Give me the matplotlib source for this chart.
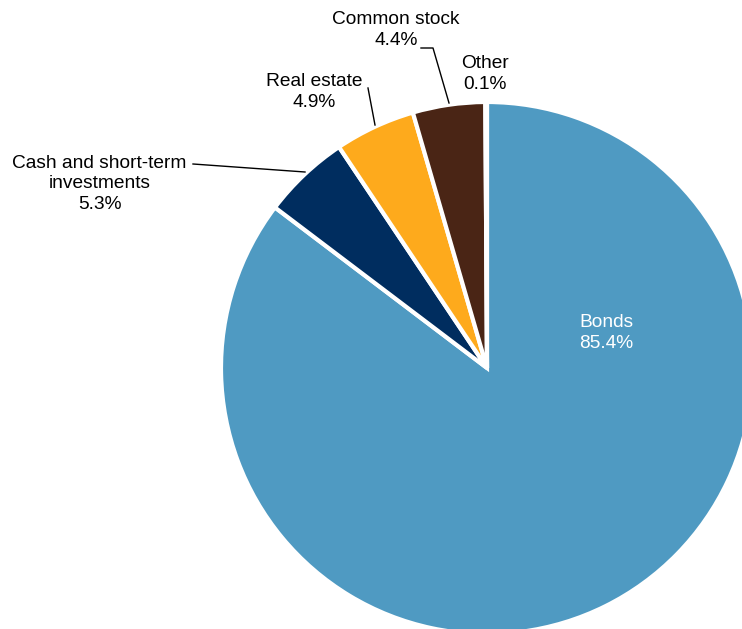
import matplotlib.pyplot as plt

# data
labels = ['Bonds', 'Cash and short-term\ninvestments', 'Real estate', 'Common stock', 'Other']
shares = [85.4, 5.3, 4.9, 4.4, 0.1]
colors = ['#4F9AC2', '#002D5F', '#FEAA1C', '#4A2515', '#9E9E9E']

plt.rcParams['font.family'] = ['Liberation Sans', 'DejaVu Sans']

W, H = 742, 629
fig = plt.figure(figsize=(W / 100, H / 100), dpi=100)
ax = fig.add_axes([0, 0, 1, 1])

cx, cy, r = 487, H - 368, 266
wedges, _ = ax.pie(shares, colors=colors, startangle=90, counterclock=False,
                   center=(cx, cy), radius=r, frame=True,
                   wedgeprops=dict(edgecolor='white', linewidth=3))
ax.set_xlim(0, W)
ax.set_ylim(0, H)
ax.axis('off')

fs = 13.8
def lab(x, y, s, color='black'):
    ax.text(x, H - y, s, ha='center', va='center', fontsize=fs, color=color,
            linespacing=1.3)

lab(606, 333, 'Bonds\n%.1f%%' % shares[0], 'white')
lab(99.5, 184, labels[1] + '\n%.1f%%' % shares[1])
lab(314, 92, labels[2] + '\n%.1f%%' % shares[2])
lab(396, 30, labels[3] + '\n%.1f%%' % shares[3])
lab(485, 74, labels[4] + '\n%.1f%%' % shares[4])

# leader lines
def leader(pts):
    ax.plot([p[0] for p in pts], [H - p[1] for p in pts], color='black', lw=1)

leader([(193, 164), (305, 172)])
leader([(368, 88), (375, 125)])
leader([(421, 48), (433, 48), (449, 103)])

fig.savefig('out.png', dpi=100)
